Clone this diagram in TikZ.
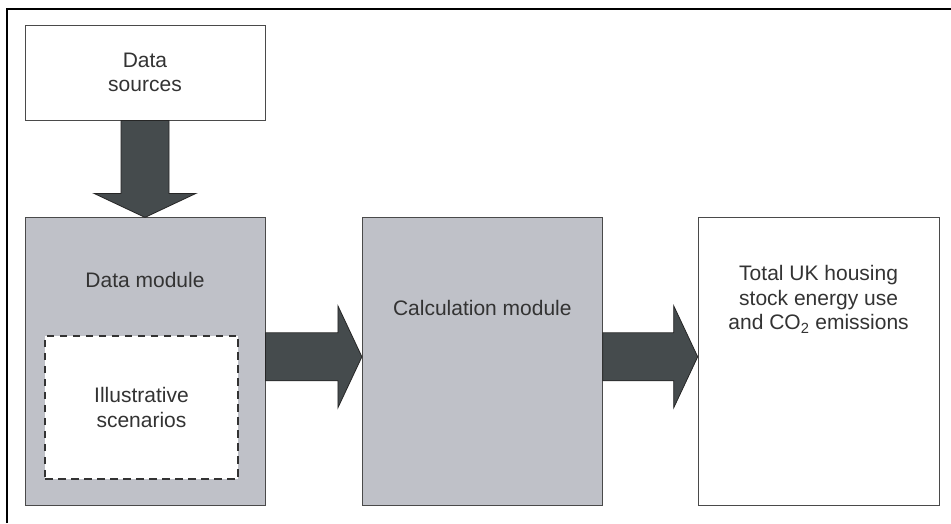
\documentclass[tikz,border=0pt]{standalone}
\usepackage{fontspec}
\setmainfont{Liberation Sans}
\usetikzlibrary{positioning,calc}
\definecolor{UKgrey}{HTML}{BFC1C8}
\definecolor{UKarrow}{HTML}{454B4D}
\definecolor{UKline}{HTML}{4A4A4A}
\definecolor{UKtext}{HTML}{333333}
\tikzset{
  plainbox/.style={draw=UKline, fill=white, line width=0.8pt, align=center, text=UKtext, inner sep=0pt},
  modbox/.style={plainbox, fill=UKgrey, minimum width=240pt, minimum height=288pt},
  outbox/.style={plainbox, minimum width=241pt, minimum height=288pt},
  scenbox/.style={draw=black!80, fill=white, line width=1.6pt, dash pattern=on 7.5pt off 5.5pt, align=center, text=UKtext, minimum width=193pt, minimum height=143pt, inner sep=0pt},
  boxtext/.style={align=center, text=UKtext, inner sep=0pt},
  fatarr/.style={draw=black!85, fill=UKarrow, line width=0.8pt, line join=miter}
}
\begin{document}
\begin{tikzpicture}[font=\fontsize{21}{24.5}\selectfont]
  \useasboundingbox (0,0) rectangle (951pt,-523pt);
  \draw[line width=1.6pt] (7pt,-523pt) -- (7pt,-9pt) -- (951pt,-9pt);
  \node[plainbox, minimum width=240pt, minimum height=95pt] (src) at (145pt,-72.5pt) {Data\\sources};
  \node[modbox, below=97pt of src] (dm) {};
  \node[modbox, right=96.5pt of dm] (cm) {};
  \node[outbox, right=95pt of cm] (out) {};
  \node[boxtext] (dmt) at ([yshift=-63pt]dm.north) {Data module};
  \node[scenbox] (scen) at ([xshift=-3.5pt,yshift=-45.5pt]dm.center) {Illustrative\\scenarios};
  \node[boxtext] (cmt) at ([yshift=-91pt]cm.north) {Calculation module};
  \node[boxtext] (outt) at ([yshift=-82pt]out.north) {Total UK housing\\stock energy use\\and CO\textsubscript{2} emissions};
  % block arrows between the boxes
  \draw[fatarr] let \p1=(src.south), \p2=(dm.north) in
    (\x1-24pt,\y1) -- (\x1-24pt,\y2+24pt) -- (\x1-51pt,\y2+24pt) -- (\x1,\y2)
    -- (\x1+51pt,\y2+24pt) -- (\x1+24pt,\y2+24pt) -- (\x1+24pt,\y1) -- cycle;
  \foreach \a/\b in {dm/cm, cm/out}
    \draw[fatarr] let \p1=([yshift=5pt]\a.east), \p2=([yshift=5pt]\b.west) in
      (\x1,\y1+24pt) -- (\x2-24pt,\y1+24pt) -- (\x2-24pt,\y1+51pt) -- (\p2)
      -- (\x2-24pt,\y1-51pt) -- (\x2-24pt,\y1-24pt) -- (\x1,\y1-24pt) -- cycle;
\end{tikzpicture}
\end{document}
